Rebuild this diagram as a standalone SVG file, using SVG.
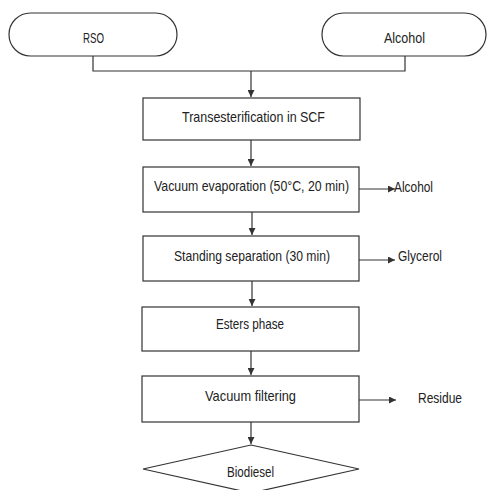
<svg xmlns="http://www.w3.org/2000/svg" width="487" height="490" viewBox="0 0 487 490">
<style>
.n{fill:#fff;stroke:#333;stroke-width:1.2}
.c{fill:none;stroke:#333;stroke-width:1.2}
text{font-family:"Liberation Sans",Arial,sans-serif;font-size:15px;fill:#222}
</style>
<defs>
<marker id="a" viewBox="0 0 10 10" refX="10" refY="5" markerWidth="7" markerHeight="7" markerUnits="userSpaceOnUse" orient="auto">
<path d="M0,0 L10,5 L0,10 z" fill="#333"/>
</marker>
</defs>
<rect width="487" height="490" fill="#fff"/>
<g id="connectors">
<path class="c" d="M93,56 V71 H405 V56"/>
<path class="c" d="M251,71 V97" marker-end="url(#a)"/>
<path class="c" d="M251,140 V166" marker-end="url(#a)"/>
<path class="c" d="M252,212 V235" marker-end="url(#a)"/>
<path class="c" d="M252,281 V306" marker-end="url(#a)"/>
<path class="c" d="M251,351 V375" marker-end="url(#a)"/>
<path class="c" d="M251,422 V444" marker-end="url(#a)"/>
<path class="c" d="M359,189 H395" marker-end="url(#a)"/>
<path class="c" d="M359,260 H395" marker-end="url(#a)"/>
<path class="c" d="M359,400 H396" marker-end="url(#a)"/>
</g>
<g id="rso"><rect class="n" x="9" y="13" width="168" height="43" rx="21.5"/><text x="83" y="43" textLength="21" lengthAdjust="spacingAndGlyphs">RSO</text></g>
<g id="alcohol-in"><rect class="n" x="322" y="13" width="164" height="43" rx="21.5"/><text x="384" y="43" textLength="41" lengthAdjust="spacingAndGlyphs">Alcohol</text></g>
<g id="trans"><rect class="n" x="143" y="98" width="217" height="42"/><text x="182" y="122" textLength="143" lengthAdjust="spacingAndGlyphs">Transesterification in SCF</text></g>
<g id="vacevap"><rect class="n" x="143" y="167" width="216" height="45"/><text x="154" y="191" textLength="195" lengthAdjust="spacingAndGlyphs">Vacuum evaporation (50°C, 20 min)</text></g>
<g id="alcohol-out"><text x="394" y="192" textLength="39" lengthAdjust="spacingAndGlyphs">Alcohol</text></g>
<g id="standing"><rect class="n" x="143" y="236" width="216" height="45"/><text x="174" y="261" textLength="156" lengthAdjust="spacingAndGlyphs">Standing separation (30 min)</text></g>
<g id="glycerol"><text x="398" y="261" textLength="44" lengthAdjust="spacingAndGlyphs">Glycerol</text></g>
<g id="esters"><rect class="n" x="142" y="307" width="217" height="44"/><text x="216" y="329" textLength="68" lengthAdjust="spacingAndGlyphs">Esters phase</text></g>
<g id="vacfilt"><rect class="n" x="142" y="376" width="217" height="46"/><text x="205" y="401" textLength="91" lengthAdjust="spacingAndGlyphs">Vacuum filtering</text></g>
<g id="residue"><text x="418" y="403" textLength="44" lengthAdjust="spacingAndGlyphs">Residue</text></g>
<g id="biodiesel"><path class="n" d="M251,445 L359,469 L251,493 L143,469 Z"/><text x="227" y="477" textLength="47" lengthAdjust="spacingAndGlyphs">Biodiesel</text></g>
</svg>
